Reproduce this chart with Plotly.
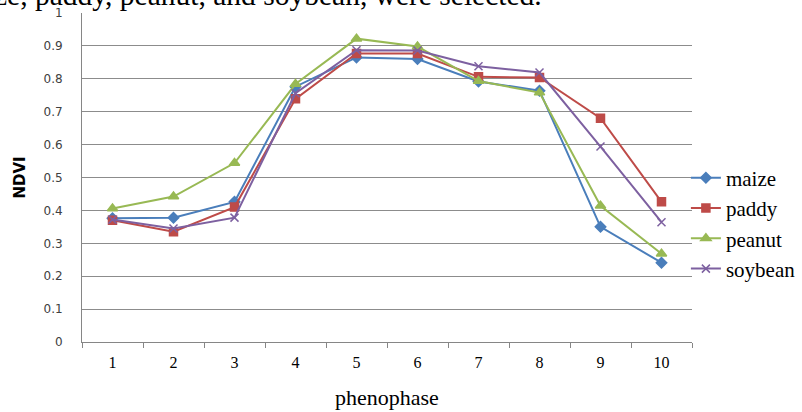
import plotly.graph_objects as go

phenophase = ["1", "2", "3", "4", "5", "6", "7", "8", "9", "10"]
maize = [0.376, 0.378, 0.426, 0.776, 0.865, 0.860, 0.792, 0.764, 0.350, 0.241]
paddy = [0.370, 0.335, 0.410, 0.739, 0.877, 0.877, 0.806, 0.804, 0.680, 0.426]
peanut = [0.406, 0.442, 0.544, 0.784, 0.922, 0.898, 0.793, 0.758, 0.414, 0.268]
soybean = [0.372, 0.345, 0.378, 0.756, 0.887, 0.886, 0.838, 0.819, 0.594, 0.364]

series = [
    ("maize", maize, "#4A7EBB", "diamond", 8),
    ("paddy", paddy, "#BE4B48", "square", 8),
    ("peanut", peanut, "#98B954", "triangle-up", 9),
    ("soybean", soybean, "#7D60A0", "x-thin-open", 8),
]

fig = go.Figure()
for name, vals, col, sym, sz in series:
    fig.add_trace(go.Scatter(
        x=phenophase, y=vals, name=name, mode="lines+markers",
        line=dict(color=col, width=2),
        marker=dict(symbol=sym, size=sz, color=col, line=dict(color=col, width=1.5)),
    ))

fig.update_layout(
    width=802, height=412,
    margin=dict(l=82, r=110, t=13, b=70, autoexpand=False),
    paper_bgcolor="white", plot_bgcolor="white",
    showlegend=True,
    legend=dict(x=0.99, xanchor="left", y=0.36, yanchor="middle",
                font=dict(family="Liberation Serif", size=21, color="black"),
                tracegroupgap=0, itemwidth=30, bgcolor="rgba(0,0,0,0)"),
    xaxis=dict(type="category", range=[-0.5, 9.5], tickson="boundaries", ticks="outside",
               ticklen=5, tickcolor="#868686", showline=True, linecolor="#868686",
               linewidth=1, showgrid=False, ticklabelstandoff=6, automargin=False,
               tickfont=dict(family="Liberation Serif", size=16, color="black")),
    yaxis=dict(range=[0, 1], dtick=0.1, tick0=0, showgrid=True, gridcolor="#8C8C8C",
               gridwidth=1, showline=True, linecolor="#868686", linewidth=1,
               zeroline=False, ticks="", ticklabelstandoff=16, automargin=False,
               tickfont=dict(family="DejaVu Sans", size=12, color="#404040")),
    annotations=[
        dict(text="phenophase", xref="paper", yref="paper", x=0.5, y=-55/329,
             xanchor="center", yanchor="middle", showarrow=False,
             font=dict(family="Liberation Serif", size=22, color="black")),
        dict(text="<b>NDVI</b>", xref="paper", yref="paper", x=-63/610, y=0.5,
             xanchor="center", yanchor="middle", textangle=-90, showarrow=False,
             font=dict(family="DejaVu Sans", size=15, color="black")),
        dict(text="ze, paddy, peanut, and soybean, were selected.", xref="paper", yref="paper",
             x=-90/610, y=1 + 18/329, xanchor="left", yanchor="middle", showarrow=False,
             font=dict(family="Liberation Serif", size=29.5, color="black")),
    ],
)

fig.write_html("out.html", config={"displayModeBar": False},
               post_script="document.body.style.margin='0';document.body.style.padding='0';")
